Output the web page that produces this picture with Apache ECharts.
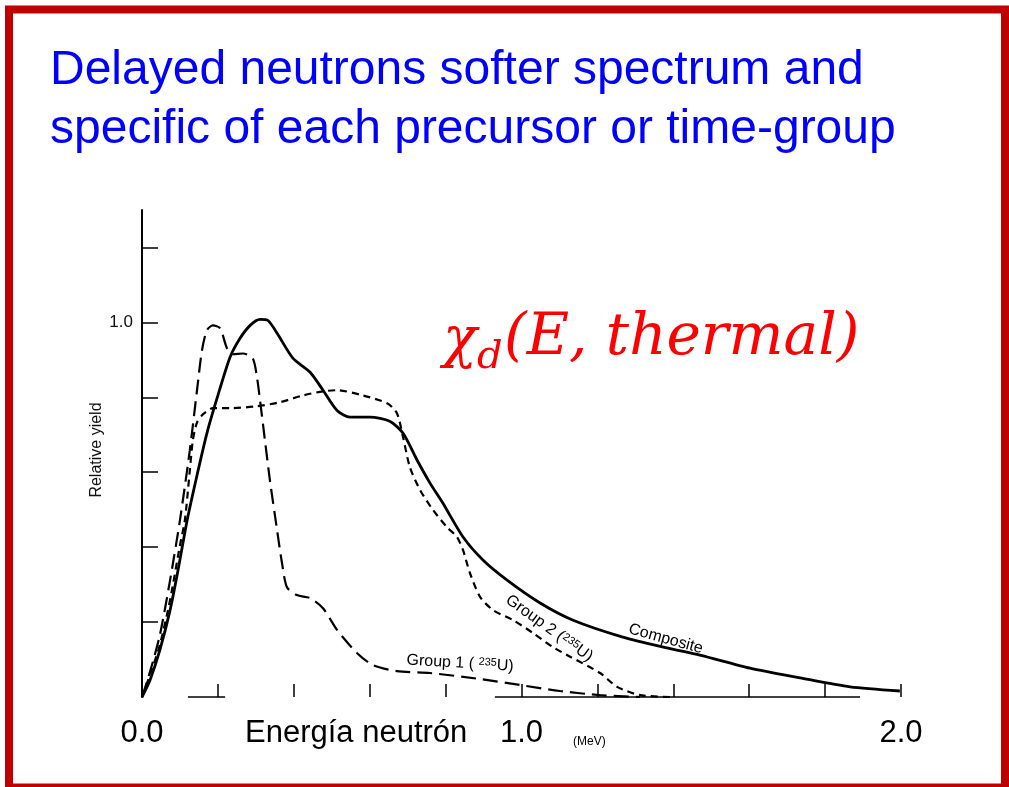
<!DOCTYPE html>
<html>
<head>
<meta charset="utf-8">
<script src="https://cdn.jsdelivr.net/npm/echarts@6/dist/echarts.min.js"></script>
<style>
html,body{margin:0;padding:0;background:#fff;}
#chart{width:1009px;height:787px;}
</style>
</head>
<body>
<div id="chart"></div>
<script>
// ---- data ----
const titleLines = ['Delayed neutrons softer spectrum and', 'specific of each precursor or time-group'];
const yAxisTitle = 'Relative yield';
const xTickValues = [0.2, 0.4, 0.6, 0.8, 1.0, 1.2, 1.4, 1.6, 1.8, 2.0];
const xLabelValues = [0, 1, 2];
const yTickValues = [0.2, 0.4, 0.6, 0.8, 1.0, 1.2];
const yLabelValues = [1.0];
const xAxisBaseSegments = [[0.121, 0.219], [0.93, 1.892]];

const compositeE = [0,0.021,0.047,0.074,0.095,0.119,0.145,0.171,0.200,0.232,0.258,0.285,0.311,0.332,0.356,0.398,0.443,0.477,0.514,0.548,0.601,0.653,0.688,0.725,0.759,0.793,0.846,0.899,0.962,1.049,1.136,1.267,1.383,1.470,1.602,1.734,1.866,1.997];
const compositeY = [0,0.045,0.125,0.232,0.339,0.472,0.592,0.704,0.805,0.907,0.957,0.992,1.008,1.005,0.971,0.904,0.867,0.819,0.765,0.747,0.747,0.736,0.704,0.632,0.571,0.517,0.427,0.365,0.312,0.251,0.205,0.160,0.131,0.112,0.077,0.051,0.027,0.016];

const group1E = [0,0.021,0.047,0.074,0.100,0.126,0.145,0.158,0.171,0.187,0.206,0.224,0.240,0.266,0.292,0.303,0.311,0.324,0.337,0.356,0.369,0.382,0.408,0.443,0.477,0.514,0.567,0.609,0.672,0.759,0.891,0.996,1.101,1.207,1.312];
const group1Y = [0,0.067,0.165,0.312,0.472,0.659,0.819,0.925,0.979,0.992,0.984,0.931,0.915,0.917,0.904,0.853,0.792,0.685,0.579,0.445,0.357,0.293,0.272,0.264,0.237,0.179,0.117,0.085,0.069,0.064,0.048,0.032,0.016,0.005,0];

const group2E = [0,0.021,0.047,0.074,0.100,0.113,0.126,0.134,0.145,0.161,0.187,0.232,0.303,0.364,0.424,0.477,0.514,0.582,0.646,0.672,0.688,0.706,0.733,0.767,0.804,0.830,0.846,0.864,0.891,0.925,0.978,1.030,1.083,1.120,1.207,1.252,1.312,1.391];
const group2Y = [0,0.059,0.139,0.259,0.405,0.472,0.605,0.685,0.733,0.755,0.771,0.771,0.776,0.787,0.805,0.816,0.819,0.805,0.784,0.757,0.693,0.613,0.552,0.499,0.453,0.427,0.392,0.331,0.267,0.232,0.205,0.171,0.133,0.112,0.064,0.027,0.005,0];

function zip(a, b) { return a.map((v, i) => [v, b[i]]); }

const FONT = "'Liberation Sans', Arial, sans-serif";
const chart = echarts.init(document.getElementById('chart'), null, {renderer: 'canvas'});

const option = {
  animation: false,
  backgroundColor: '#ffffff',
  grid: {left: 142, top: 210, width: 759, height: 487},
  xAxis: {
    type: 'value', min: 0, max: 2,
    axisLine: {show: false},
    splitLine: {show: false},
    axisTick: {show: true, inside: true, length: 13, customValues: xTickValues,
               lineStyle: {color: '#000', width: 1.5}},
    axisLabel: {customValues: xLabelValues, formatter: v => v.toFixed(1),
                fontSize: 31, fontFamily: FONT, color: '#000', margin: 21}
  },
  yAxis: {
    type: 'value', min: 0, max: 1.3,
    axisLine: {show: true, lineStyle: {color: '#000', width: 2}},
    splitLine: {show: false},
    axisTick: {show: true, inside: true, length: 16, customValues: yTickValues,
               lineStyle: {color: '#000', width: 1.5}},
    axisLabel: {customValues: yLabelValues, formatter: v => v.toFixed(1),
                fontSize: 17, fontFamily: FONT, color: '#111', margin: 9}
  },
  series: [
    {
      name: 'Composite', type: 'line', data: zip(compositeE, compositeY),
      showSymbol: false, smooth: 0.25,
      lineStyle: {color: '#000', width: 2.8, type: 'solid'},
      markLine: {
        silent: true, symbol: 'none', label: {show: false},
        lineStyle: {color: '#000', width: 1.5, type: 'solid'},
        data: xAxisBaseSegments.map(s => [{coord: [s[0], 0]}, {coord: [s[1], 0]}])
      }
    },
    {
      name: 'Group 1', type: 'line', data: zip(group1E, group1Y),
      showSymbol: false, smooth: 0.25,
      lineStyle: {color: '#000', width: 2.2, type: [15, 7]}
    },
    {
      name: 'Group 2', type: 'line', data: zip(group2E, group2Y),
      showSymbol: false, smooth: 0.25,
      lineStyle: {color: '#000', width: 2.2, type: [7, 5]}
    }
  ],
  graphic: [
    {type: 'rect', shape: {x: 9, y: 9.5, width: 996, height: 778},
     style: {fill: 'none', stroke: '#c00000', lineWidth: 8}, z: 100},
    {type: 'text', x: 50, y: 47, style: {text: titleLines[0], font: '48px ' + FONT, fill: '#0000ff', textAlign: 'left', textVerticalAlign: 'top'}},
    {type: 'text', x: 50, y: 106, style: {text: titleLines[1], font: '48px ' + FONT, fill: '#0000ff', textAlign: 'left', textVerticalAlign: 'top'}},
    {type: 'text', x: 97, y: 450, rotation: Math.PI / 2,
     style: {text: yAxisTitle, font: '16px ' + FONT, fill: '#111', textAlign: 'center', textVerticalAlign: 'middle'}},
    {type: 'text', x: 443, y: 341, style: {text: 'χ', font: 'italic 56px "DejaVu Serif", serif', fill: '#ff0000', textAlign: 'left', textVerticalAlign: 'middle'}},
    {type: 'text', x: 477, y: 358, style: {text: 'd', font: 'italic 40px "DejaVu Serif", serif', fill: '#ff0000', textAlign: 'left', textVerticalAlign: 'middle'}},
    {type: 'text', x: 504, y: 339, style: {text: '(E, thermal)', font: 'italic 58px "DejaVu Serif", serif', fill: '#ff0000', textAlign: 'left', textVerticalAlign: 'middle'}},
    {type: 'text', x: 245, y: 718, style: {text: 'Energía neutrón', font: '31px ' + FONT, fill: '#000', textAlign: 'left', textVerticalAlign: 'top'}},
    {type: 'text', x: 573, y: 742, style: {text: '(MeV)', font: '12px ' + FONT, fill: '#000', textAlign: 'left', textVerticalAlign: 'middle'}},
    {type: 'text', x: 631, y: 621, rotation: -0.27,
     style: {text: 'Composite', font: '16px ' + FONT, fill: '#000', textAlign: 'left', textVerticalAlign: 'top'}},
    {type: 'text', x: 512, y: 592, rotation: -0.62,
     style: {text: '{a|Group 2 (}{s|235}{a|U)}', fill: '#000', textAlign: 'left', textVerticalAlign: 'top',
             rich: {a: {font: '16px ' + FONT, fill: '#000'}, s: {font: '11px ' + FONT, fill: '#000', verticalAlign: 'top'}}}},
    {type: 'text', x: 407, y: 652, rotation: -0.06,
     style: {text: '{a|Group 1 ( }{s|235}{a|U)}', fill: '#000', textAlign: 'left', textVerticalAlign: 'top',
             rich: {a: {font: '16px ' + FONT, fill: '#000'}, s: {font: '11px ' + FONT, fill: '#000', verticalAlign: 'top'}}}}
  ]
};
chart.setOption(option);
</script>
</body>
</html>
